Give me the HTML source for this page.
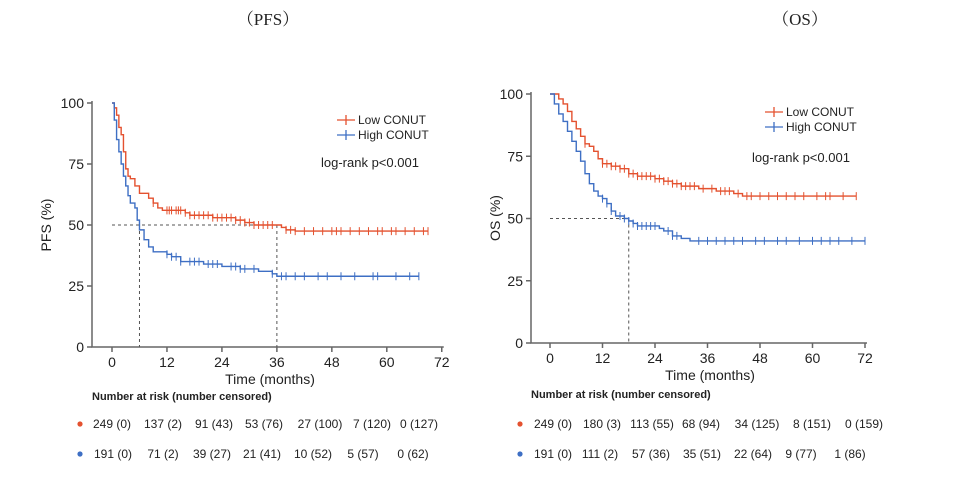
<!DOCTYPE html>
<html><head><meta charset="utf-8"><style>
html,body{margin:0;padding:0;background:#fff;width:960px;height:485px;overflow:hidden}
svg{display:block}
text{font-family:"Liberation Sans",Arial,sans-serif;fill:#222}
</style></head><body>
<svg id="s" width="960" height="485" xmlns="http://www.w3.org/2000/svg">
<text x="268" y="25" text-anchor="middle" style="font-family:'Liberation Serif','Noto Serif CJK SC',serif;font-size:17px">（PFS）</text>
<text x="800" y="25" text-anchor="middle" style="font-family:'Liberation Serif','Noto Serif CJK SC',serif;font-size:17px">（OS）</text>
<g id="g"></g>
<text x="270" y="384" text-anchor="middle" font-size="14">Time (months)</text>
<text x="710" y="380" text-anchor="middle" font-size="14">Time (months)</text>
<text transform="translate(51,225) rotate(-90)" text-anchor="middle" font-size="14">PFS (%)</text>
<text transform="translate(500,218) rotate(-90)" text-anchor="middle" font-size="14">OS (%)</text>
<text x="358" y="124" font-size="12">Low CONUT</text>
<text x="358" y="139" font-size="12">High CONUT</text>
<text x="321" y="167" font-size="13">log-rank p&lt;0.001</text>
<text x="786" y="116" font-size="12">Low CONUT</text>
<text x="786" y="131" font-size="12">High CONUT</text>
<text x="752" y="162" font-size="13">log-rank p&lt;0.001</text>
<text x="92" y="400" font-size="11" font-weight="bold">Number at risk (number censored)</text>
<text x="531" y="398" font-size="11" font-weight="bold">Number at risk (number censored)</text>
<circle cx="80" cy="424" r="2.6" fill="#e4512f"/><circle cx="80" cy="454" r="2.6" fill="#3e6fc4"/>
<circle cx="520" cy="424" r="2.6" fill="#e4512f"/><circle cx="520" cy="454" r="2.6" fill="#3e6fc4"/>
</svg>
<script>
var g=document.getElementById('g'),NS='http://www.w3.org/2000/svg';
function el(t,a){var e=document.createElementNS(NS,t);for(var k in a)e.setAttribute(k,a[k]);g.appendChild(e);return e;}
function txt(x,y,s,an,fs){var e=el('text',{x:x,y:y,'text-anchor':an||'middle','font-size':fs||12});e.textContent=s;}
function plot(P){
 var X=function(m){return P.x0+m*P.sx},Y=function(v){return P.y0-v*P.sy};
 el('path',{d:'M'+P.ax+' '+(Y(100)-2)+'V'+Y(0)+'H'+(X(72)+2),stroke:'#666','stroke-width':1.5,fill:'none'});
 [0,25,50,75,100].forEach(function(v){el('path',{d:'M'+(P.ax-5)+' '+Y(v)+'H'+P.ax,stroke:'#666','stroke-width':1.5});txt(P.ax-8,Y(v)+5,String(v),'end',14);});
 for(var m=0;m<=72;m+=12){el('path',{d:'M'+X(m)+' '+Y(0)+'v5',stroke:'#666','stroke-width':1.5});txt(X(m),Y(0)+20,String(m),'middle',14);}
 el('path',{d:P.dash(X,Y),stroke:'#555','stroke-width':1,'stroke-dasharray':'3,3',fill:'none'});
 P.series.forEach(function(S){
  var d='M'+X(0)+' '+Y(100),pts=S.p;
  for(var i=1;i<pts.length;i++){d+='H'+X(pts[i][0])+'V'+Y(pts[i][1]);}
  el('path',{d:d,stroke:S.c,'stroke-width':1.4,fill:'none'});
  var cd='';
  S.cen.forEach(function(m){var v=100;for(var i=0;i<pts.length;i++){if(pts[i][0]<=m)v=pts[i][1];}cd+='M'+X(m)+' '+(Y(v)-4)+'v8';});
  el('path',{d:cd,stroke:S.c,'stroke-width':1,fill:'none'});
 });
 P.leg.forEach(function(L){el('path',{d:'M'+(L.x-9)+' '+L.y+'h18M'+L.x+' '+(L.y-5)+'v10',stroke:L.c,'stroke-width':1.3});});
}
var R='#e4512f',B='#3e6fc4';
plot({x0:112,sx:4.58,y0:347,sy:2.44,ax:92,
 dash:function(X,Y){return 'M'+X(0)+' '+Y(50)+'H'+X(36)+'M'+X(6)+' '+Y(50)+'V'+Y(0)+'M'+X(36)+' '+Y(50)+'V'+Y(0);},
 series:[
 {c:R,p:[[0,100],[0.5,98],[1,95],[1.5,90],[2,87],[2.5,80],[3,73],[3.5,70],[4,69],[5,66],[6,63],[8,61],[9,59],[10,57],[11,56],[16,55],[17,54],[22,53],[27,52],[29,51],[31,50],[37,49],[38,48],[40,47.5],[69,47.5]],
  cen:[9,12,12.5,13,14,14.5,15,16,17,18,19,20,21,22,23,24,25,26,27,28,29,30,31,32,33,34,35,38,39,40,42,44,46,48,49,50,52,54,56,58,59,61,62,64,66,68,69]},
 {c:B,p:[[0,100],[0.5,93],[1,85],[1.5,80],[2,75],[2.5,70],[3,66],[3.5,62],[4,59],[5,57],[5.5,52],[6,48],[7,44],[8,41],[9,39],[12,38],[13,37],[15,35],[20,34],[24,33],[28,32],[32,31],[35,30],[36,29],[67,29]],
  cen:[12,13,14,15,17,18,19,21,22,23,26,27,28,29,31,35,37,38,40,42,45,47,50,53,57,58,62,65,67]}],
 leg:[{x:346,y:120,c:R},{x:346,y:135,c:B}]});
plot({x0:550,sx:4.375,y0:343,sy:2.49,ax:531,
 dash:function(X,Y){return 'M'+X(0)+' '+Y(50)+'H'+X(18)+'M'+X(18)+' '+Y(50)+'V'+Y(0);},
 series:[
 {c:R,p:[[0,100],[2,98],[3,96],[4,93],[5,89],[6,86],[7,83],[8,80],[9,79],[10,77],[11,74],[12,72],[14,71],[16,70],[18,68],[20,67],[24,66],[26,65],[28,64],[30,63],[34,62],[38,61],[42,60],[44,59],[70,59]],
  cen:[8,12,13,14,15,16,17,18,19,20,21,22,23,24,25,26,27,28,29,30,31,32,33,35,37,39,40,41,43,45,46,48,50,52,54,56,58,61,63,64,67,70]},
 {c:B,p:[[0,100],[1,96],[2,92],[3,89],[4,85],[5,81],[6,77],[7,73],[8,68],[9,64],[10,61],[11,59],[12,58],[13,56],[14,53],[15,51],[17,50],[18,49],[19,48],[20,47],[24,47],[25,46],[26,45],[28,43],[30,42],[32,41],[72,41]],
  cen:[12,13,14,16,17,18,19,20,21,22,23,24,27,28,29,34,36,38,40,42,44,47,49,52,54,57,60,62,64,66,69,72]}],
 leg:[{x:774,y:112,c:R},{x:774,y:127,c:B}]});
var rows=[
 [[112,163,214,264,320,372,419],['249 (0)','137 (2)','91 (43)','53 (76)','27 (100)','7 (120)','0 (127)'],428],
 [[113,163,212,262,313,363,413],['191 (0)','71 (2)','39 (27)','21 (41)','10 (52)','5 (57)','0 (62)'],458],
 [[553,602,652,701,757,812,864],['249 (0)','180 (3)','113 (55)','68 (94)','34 (125)','8 (151)','0 (159)'],428],
 [[553,600,651,702,753,801,850],['191 (0)','111 (2)','57 (36)','35 (51)','22 (64)','9 (77)','1 (86)'],458]];
rows.forEach(function(r){for(var i=0;i<7;i++)txt(r[0][i],r[2],r[1][i],'middle',12);});
</script>
</body></html>
